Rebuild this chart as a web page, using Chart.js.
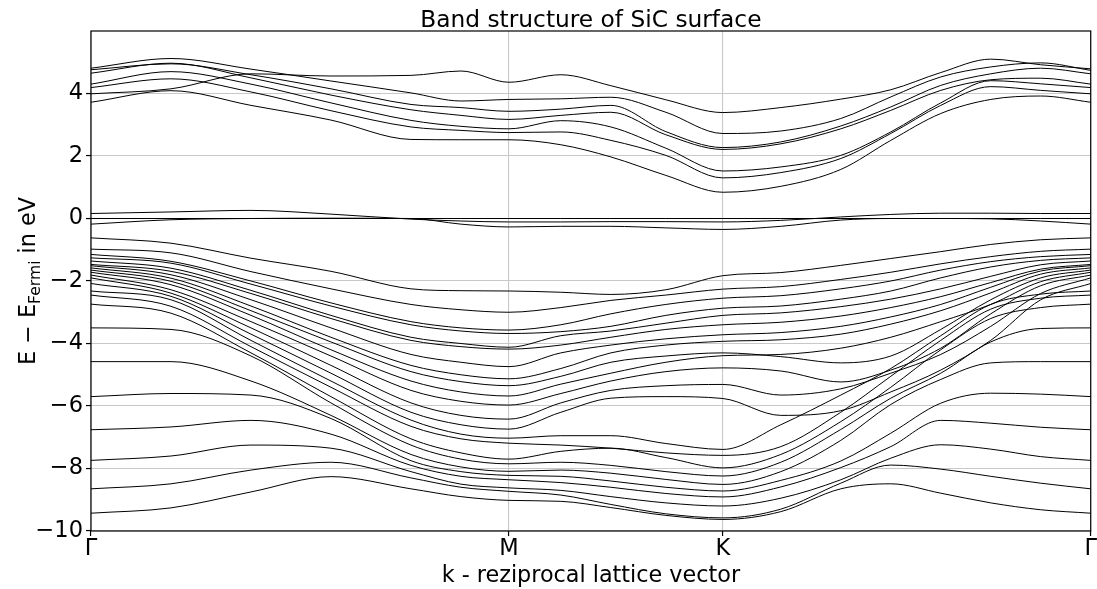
<!DOCTYPE html>
<html>
<head>
<meta charset="utf-8">
<script src="https://cdn.jsdelivr.net/npm/chart.js@4.4.1/dist/chart.umd.min.js"></script>
<style>
  html, body { margin: 0; padding: 0; background: #fff; }
  canvas { display: block; }
</style>
</head>
<body>
<canvas id="bands" width="1097" height="589"></canvas>
<script>
// Positions along the k-path Γ → M → K → Γ (path length scaled to 1000)
const kPath = [0, 80, 160, 240, 320, 370, 418, 470, 520, 575, 632, 690, 750, 800, 850, 900, 950, 1000];
const kTickPos = [0, 418, 632, 1000];
const kTickLabels = ['Γ', 'M', 'K', 'Γ'];
const eTicks = [-10, -8, -6, -4, -2, 0, 2, 4];
const eTickLabels = ['−10', '−8', '−6', '−4', '−2', '0', '2', '4'];

// Conduction bands (eV relative to E_Fermi)
const condA = [3.99, 4.15, 4.63, 4.56, 4.58, 4.72, 4.36, 4.60, 4.25, 3.80, 3.39, 3.55, 3.82, 4.12, 4.67, 5.10, 4.92, 4.79];
const condB = [4.81, 5.12, 4.78, 4.40, 4.02, 3.76, 3.81, 3.83, 3.88, 3.40, 2.72, 2.80, 3.20, 3.89, 4.53, 4.85, 4.98, 4.74];
const condC = [4.76, 4.95, 4.60, 4.15, 3.65, 3.55, 3.43, 3.50, 3.62, 2.78, 2.27, 2.45, 2.96, 3.57, 4.26, 4.63, 4.81, 4.63];
const condD = [4.65, 4.97, 4.50, 3.95, 3.48, 3.30, 3.17, 3.30, 3.40, 2.68, 2.21, 2.39, 2.87, 3.46, 4.10, 4.44, 4.49, 4.30];
const condE = [4.30, 4.70, 4.30, 3.70, 3.14, 2.95, 2.87, 3.13, 2.93, 2.25, 1.52, 1.65, 2.02, 2.77, 3.70, 4.41, 4.31, 4.19];
const condF = [4.19, 4.47, 4.05, 3.45, 2.93, 2.82, 2.75, 2.77, 2.50, 2.02, 1.30, 1.47, 1.92, 2.72, 3.62, 4.22, 4.10, 3.99];
const condG = [3.72, 4.09, 3.62, 3.15, 2.53, 2.52, 2.52, 2.36, 1.97, 1.38, 0.84, 1.03, 1.57, 2.50, 3.36, 3.81, 3.92, 3.72];

// Surface states around the Fermi level
const fermiLine = [0, 0, 0, 0, 0, 0, 0, 0, 0, 0, 0, 0, 0, 0, 0, 0, 0, 0];
const surfUp = [0.16, 0.21, 0.26, 0.14, -0.02, -0.08, -0.11, -0.11, -0.10, -0.10, -0.11, -0.06, 0.05, 0.13, 0.17, 0.17, 0.16, 0.16];
const surfDn = [-0.18, -0.04, 0.00, 0.01, 0.00, -0.18, -0.27, -0.25, -0.25, -0.30, -0.35, -0.25, -0.05, 0.00, 0.00, -0.01, -0.08, -0.18];

// Valence bands
const val01 = [-0.62, -0.79, -1.27, -1.69, -2.25, -2.31, -2.32, -2.36, -2.43, -2.28, -1.83, -1.73, -1.50, -1.28, -1.06, -0.83, -0.68, -0.62];
const val02 = [-0.98, -1.10, -1.70, -2.25, -2.75, -2.92, -3.00, -2.85, -2.62, -2.45, -2.26, -2.18, -1.95, -1.72, -1.45, -1.22, -1.05, -0.98];
const val03 = [-1.15, -1.37, -2.00, -2.70, -3.30, -3.50, -3.57, -3.40, -3.05, -2.75, -2.55, -2.47, -2.25, -2.00, -1.65, -1.38, -1.22, -1.15];
const val04 = [-1.26, -1.43, -2.10, -2.80, -3.40, -3.60, -3.68, -3.62, -3.45, -3.10, -2.87, -2.80, -2.58, -2.32, -1.90, -1.55, -1.34, -1.26];
const val05 = [-1.36, -1.59, -2.30, -3.10, -3.80, -4.00, -4.12, -3.75, -3.60, -3.35, -3.10, -3.02, -2.82, -2.58, -2.25, -1.85, -1.48, -1.36];
const val06 = [-1.47, -1.69, -2.40, -3.20, -3.90, -4.10, -4.18, -4.05, -3.80, -3.55, -3.40, -3.32, -3.12, -2.85, -2.50, -2.05, -1.62, -1.47];
const val07 = [-1.51, -1.80, -2.60, -3.50, -4.35, -4.60, -4.74, -4.30, -4.05, -3.85, -3.72, -3.65, -3.45, -3.15, -2.75, -2.20, -1.68, -1.51];
const val08 = [-1.58, -1.91, -2.80, -3.80, -4.70, -5.00, -5.13, -4.80, -4.30, -4.05, -3.93, -3.88, -3.70, -3.38, -2.95, -2.38, -1.78, -1.58];
const val09 = [-1.65, -2.01, -2.95, -3.95, -4.90, -5.22, -5.35, -5.05, -4.60, -4.40, -4.30, -4.42, -4.62, -4.40, -3.55, -2.60, -1.90, -1.65];
const val10 = [-1.72, -2.12, -3.10, -4.20, -5.20, -5.55, -5.68, -5.30, -4.95, -4.60, -4.39, -4.35, -4.15, -3.80, -3.30, -2.75, -2.02, -1.72];
const val11 = [-1.81, -2.28, -3.30, -4.40, -5.50, -5.85, -5.97, -5.60, -5.20, -4.90, -4.78, -4.88, -5.23, -4.85, -4.15, -3.05, -2.15, -1.81];
const val12 = [-1.90, -2.39, -3.50, -4.70, -5.90, -6.30, -6.42, -5.90, -5.50, -5.35, -5.31, -5.65, -5.45, -4.95, -4.35, -3.45, -2.40, -1.90];
const val13 = [-2.08, -2.49, -3.70, -4.95, -6.20, -6.60, -6.74, -6.20, -5.75, -5.70, -5.76, -6.30, -6.15, -5.55, -4.85, -3.90, -2.60, -2.08];
const val14 = [-2.32, -2.60, -3.90, -5.20, -6.45, -6.90, -7.03, -6.95, -6.95, -7.20, -7.39, -6.60, -5.65, -4.80, -3.75, -2.75, -2.42, -2.32];
const val15 = [-2.45, -2.81, -4.10, -5.40, -6.65, -7.05, -7.19, -7.25, -7.35, -7.50, -7.58, -7.30, -6.20, -5.05, -3.90, -2.90, -2.55, -2.45];
const val16 = [-2.74, -3.03, -4.30, -5.70, -7.05, -7.50, -7.70, -7.45, -7.35, -7.65, -7.98, -7.55, -6.50, -5.40, -4.20, -3.20, -2.85, -2.74];
const val17 = [-3.50, -3.55, -4.40, -5.90, -7.25, -7.70, -7.85, -7.80, -7.90, -8.10, -8.24, -7.80, -6.75, -5.75, -4.95, -3.95, -3.52, -3.50];
const val18 = [-4.58, -4.58, -5.20, -6.30, -7.55, -7.95, -8.09, -8.05, -8.15, -8.35, -8.51, -8.10, -7.10, -5.95, -5.15, -4.62, -4.58, -4.58];
const val19 = [-5.70, -5.60, -5.65, -6.40, -7.75, -8.10, -8.22, -8.25, -8.40, -8.60, -8.72, -8.38, -7.76, -6.87, -5.91, -5.59, -5.62, -5.70];
const val20 = [-6.76, -6.67, -6.46, -6.90, -7.90, -8.25, -8.36, -8.45, -8.60, -8.80, -8.91, -8.59, -7.97, -7.30, -6.46, -6.55, -6.68, -6.76];
const val21 = [-7.74, -7.60, -7.25, -7.35, -8.10, -8.50, -8.62, -8.70, -8.90, -9.10, -9.20, -8.95, -8.36, -7.67, -7.24, -7.38, -7.62, -7.74];
const val22 = [-8.65, -8.49, -8.05, -7.80, -8.30, -8.60, -8.73, -8.85, -9.15, -9.45, -9.58, -9.30, -8.47, -7.89, -8.02, -8.25, -8.47, -8.65];
const val23 = [-9.43, -9.26, -8.75, -8.26, -8.65, -8.90, -9.02, -9.05, -9.25, -9.50, -9.63, -9.38, -8.65, -8.49, -8.79, -9.10, -9.32, -9.43];

const allBands = [
  condA, condB, condC, condD, condE, condF, condG,
  fermiLine, surfUp, surfDn,
  val01, val02, val03, val04, val05, val06, val07, val08, val09, val10, val11, val12,
  val13, val14, val15, val16, val17, val18, val19, val20, val21, val22, val23
];

const FONT = '"DejaVu Sans", "Liberation Sans", sans-serif';

const datasets = allBands.map(band => ({
  data: kPath.map((k, i) => ({ x: k, y: band[i] })),
  borderColor: '#000',
  borderWidth: 1,
  pointRadius: 0,
  fill: false,
  cubicInterpolationMode: 'monotone'
}));

// Frame, title and axis captions
const decorations = {
  id: 'decorations',
  afterDraw(chart) {
    const { ctx, chartArea: a } = chart;
    ctx.save();
    ctx.strokeStyle = '#000';
    ctx.lineWidth = 1.2;
    ctx.strokeRect(a.left, a.top, a.right - a.left, a.bottom - a.top);

    ctx.fillStyle = '#000';
    ctx.textAlign = 'center';
    ctx.textBaseline = 'alphabetic';
    const cx = (a.left + a.right) / 2;
    ctx.font = '23.3px ' + FONT;
    ctx.fillText('Band structure of SiC surface', cx, 27);
    ctx.font = '22.3px ' + FONT;
    ctx.fillText('k - reziprocal lattice vector', cx, 582);

    // y caption with subscript
    const cy = (a.top + a.bottom) / 2;
    ctx.translate(35, cy);
    ctx.rotate(-Math.PI / 2);
    ctx.textAlign = 'left';
    const big = '22.3px ' + FONT, small = '15.6px ' + FONT;
    const p1 = 'E − E', p2 = 'Fermi', p3 = ' in eV';
    ctx.font = big; const w1 = ctx.measureText(p1).width; const w3 = ctx.measureText(p3).width;
    ctx.font = small; const w2 = ctx.measureText(p2).width;
    const x0 = -(w1 + w2 + w3) / 2;
    ctx.font = big; ctx.fillText(p1, x0, 0);
    ctx.font = small; ctx.fillText(p2, x0 + w1, 4.5);
    ctx.font = big; ctx.fillText(p3, x0 + w1 + w2, 0);
    ctx.restore();
  }
};

new Chart(document.getElementById('bands'), {
  type: 'line',
  data: { datasets },
  options: {
    responsive: false,
    animation: false,
    events: [],
    layout: { padding: { left: 0, right: 6, top: 31, bottom: 0 } },
    plugins: { legend: { display: false }, tooltip: { enabled: false }, title: { display: false } },
    scales: {
      x: {
        type: 'linear',
        min: 0,
        max: 1000,
        afterBuildTicks: s => { s.ticks = kTickPos.map(v => ({ value: v })); },
        afterFit: s => { s.height = 58; },
        grid: { color: '#c8c8c8', lineWidth: 1.1, tickColor: '#000', tickWidth: 1.2, tickLength: 5 },
        border: { display: false },
        ticks: {
          autoSkip: false, maxRotation: 0, padding: 0,
          color: '#000', font: { family: FONT, size: 22.5 },
          callback: v => kTickLabels[kTickPos.indexOf(v)]
        }
      },
      y: {
        min: -10,
        max: 6,
        afterBuildTicks: s => { s.ticks = eTicks.map(v => ({ value: v })); },
        afterFit: s => { s.width = 91; },
        grid: { color: '#c8c8c8', lineWidth: 1.1, tickColor: '#000', tickWidth: 1.2, tickLength: 5 },
        border: { display: false },
        ticks: {
          autoSkip: false, padding: 3,
          color: '#000', font: { family: FONT, size: 22.5 },
          callback: v => eTickLabels[eTicks.indexOf(v)]
        }
      }
    }
  },
  plugins: [decorations]
});
</script>
</body>
</html>
